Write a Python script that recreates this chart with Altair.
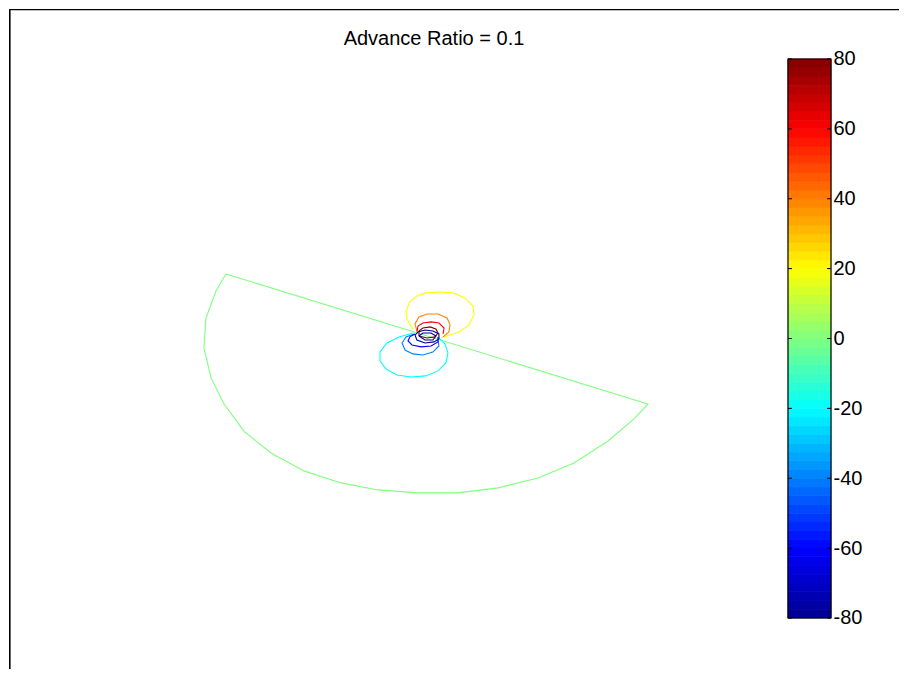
import altair as alt
import pandas as pd
import numpy as np

TITLE = "Advance Ratio = 0.1"

# contour levels and their outlines (normalised disk coordinates, radius = 1)
levels = [0, 20, 40, 60, 80, -20, -40, -60, -80, -90]

c0_x = [-0.914, -0.957, -1.000, -1.009, -0.978, -0.922, -0.836, -0.720, -0.578, -0.418,
        -0.259, -0.086, 0.086, 0.259, 0.431, 0.586, 0.733, 0.845, 0.905, -0.914]
c0_y = [0.413, 0.304, 0.131, -0.061, -0.253, -0.420, -0.596, -0.734, -0.849, -0.926,
        -0.971, -0.990, -0.990, -0.958, -0.894, -0.798, -0.657, -0.516, -0.420, 0.413]

c20_x = [-0.108, -0.134, -0.138, -0.121, -0.091, -0.052, 0.004, 0.065, 0.116, 0.151,
         0.155, 0.134, 0.091, 0.039, 0.013]
c20_y = [0.061, 0.125, 0.176, 0.234, 0.272, 0.292, 0.298, 0.292, 0.260, 0.208,
         0.151, 0.087, 0.042, 0.016, 0.003]

c40_x = [-0.091, -0.099, -0.082, -0.047, 0.000, 0.039, 0.052, 0.047, 0.022]
c40_y = [0.048, 0.093, 0.138, 0.157, 0.157, 0.131, 0.087, 0.042, 0.010]

c60_x = [-0.091, -0.086, -0.065, -0.030, 0.004, 0.026, 0.022]
c60_y = [0.042, 0.080, 0.099, 0.106, 0.099, 0.067, 0.029]

c80_x = [-0.082, -0.082, -0.065, -0.034, -0.009, 0.000, -0.013, -0.047, -0.082]
c80_y = [0.016, 0.048, 0.067, 0.074, 0.061, 0.035, 0.010, 0.003, 0.016]

cm20_x = [-0.108, -0.168, -0.220, -0.250, -0.250, -0.224, -0.177, -0.116, -0.052, 0.000,
          0.034, 0.043, 0.030, 0.004]
cm20_y = [0.035, 0.010, -0.029, -0.087, -0.144, -0.196, -0.234, -0.247, -0.240, -0.208,
          -0.157, -0.093, -0.035, 0.003]

cm40_x = [-0.103, -0.138, -0.155, -0.142, -0.108, -0.065, -0.022, 0.004, 0.000]
cm40_y = [0.029, 0.010, -0.029, -0.074, -0.099, -0.106, -0.087, -0.048, -0.010]

cm60_x = [-0.099, -0.121, -0.129, -0.112, -0.073, -0.030, 0.000, 0.000]
cm60_y = [0.029, 0.010, -0.016, -0.042, -0.054, -0.048, -0.022, 0.010]

cm80_x = [-0.099, -0.086, -0.056, -0.022, 0.004, 0.004, -0.017, -0.056, -0.091, -0.099]
cm80_y = [0.022, 0.042, 0.054, 0.048, 0.029, -0.003, -0.022, -0.029, -0.010, 0.022]

cm90_x = [-0.082, -0.065, -0.030, -0.009, -0.022, -0.056, -0.082]
cm90_y = [0.016, 0.035, 0.035, 0.016, -0.010, -0.010, 0.016]

outlines = [(c0_x, c0_y), (c20_x, c20_y), (c40_x, c40_y), (c60_x, c60_y), (c80_x, c80_y),
            (cm20_x, cm20_y), (cm40_x, cm40_y), (cm60_x, cm60_y), (cm80_x, cm80_y),
            (cm90_x, cm90_y)]

rows = []
for cid, (lev, (xs, ys)) in enumerate(zip(levels, outlines)):
    for i, (xv, yv) in enumerate(zip(xs, ys)):
        rows.append({"x": xv, "y": yv, "level": lev, "cid": cid, "i": i})
contours = pd.DataFrame(rows)

# colour bar
cbar_min, cbar_max = -80, 80
cbar_ticks = [-80, -60, -40, -20, 0, 20, 40, 60, 80]
band_lo = np.arange(cbar_min, cbar_max, 2.5)
bands = pd.DataFrame({"lo": band_lo, "hi": band_lo + 2.5, "mid": band_lo + 1.25})

jet = alt.Scale(domain=[-80, -60, -20, 20, 60, 80],
                range=["#000090", "#0000ff", "#00ffff", "#ffff00", "#ff0000", "#800000"],
                interpolate="rgb", clamp=True)

W, H = 890, 660
xdom = [-1.849, 1.987]
ydom = [-2.119, 2.112]
cb_dom = [-94.60, 94.31]
CB_L, CB_R = 779, 822

lines = alt.Chart(contours).mark_line(strokeWidth=1.1, clip=True).encode(
    x=alt.X("x:Q", scale=alt.Scale(domain=xdom, nice=False, zero=False), axis=None),
    y=alt.Y("y:Q", scale=alt.Scale(domain=ydom, nice=False, zero=False), axis=None),
    color=alt.Color("level:Q", scale=jet, legend=None),
    detail="cid:N",
    order="i:Q",
)

cb_axis = alt.Axis(orient="right", offset=-(W - CB_R), values=cbar_ticks, domain=False,
                   ticks=False, grid=False, labelFontSize=20, labelFont="Liberation Sans",
                   labelColor="black", labelPadding=2, labelOverlap=False, labelFlush=False,
                   labelExpr="'' + datum.value", title=None)
cb_scale = alt.Scale(domain=cb_dom, nice=False, zero=False)

band_layer = alt.Chart(bands).mark_rect(strokeWidth=0.8).encode(
    x=alt.value(CB_L), x2=alt.value(CB_R),
    y=alt.Y("lo:Q", scale=cb_scale, axis=cb_axis), y2="hi:Q",
    color=alt.Color("mid:Q", scale=jet, legend=None),
    stroke=alt.Stroke("mid:Q", scale=jet, legend=None),
)

border = alt.Chart(pd.DataFrame({"a": [cbar_min], "b": [cbar_max]})).mark_rect(
    fill=None, stroke="black", strokeWidth=1.2).encode(
    x=alt.value(CB_L), x2=alt.value(CB_R),
    y=alt.Y("a:Q", scale=cb_scale, axis=cb_axis), y2="b:Q",
)

tick_df = pd.DataFrame({"t": cbar_ticks})
ticks_l = alt.Chart(tick_df).mark_rule(color="black", strokeWidth=1).encode(
    x=alt.value(CB_L), x2=alt.value(CB_L + 4),
    y=alt.Y("t:Q", scale=cb_scale, axis=cb_axis),
)
ticks_r = alt.Chart(tick_df).mark_rule(color="black", strokeWidth=1).encode(
    x=alt.value(CB_R - 4), x2=alt.value(CB_R),
    y=alt.Y("t:Q", scale=cb_scale, axis=cb_axis),
)

colorbar = alt.layer(band_layer, border, ticks_l, ticks_r)

title = alt.Chart(pd.DataFrame({"t": [TITLE]})).mark_text(
    font="Liberation Sans", fontSize=20, color="black", align="center", baseline="alphabetic"
).encode(x=alt.value(425), y=alt.value(36), text="t:N")

frame_l = alt.Chart(pd.DataFrame({"k": [0]})).mark_rule(color="black", strokeWidth=1.6).encode(
    x=alt.value(0.8), y=alt.value(0), y2=alt.value(H))
frame_t = alt.Chart(pd.DataFrame({"k": [0]})).mark_rule(color="black", strokeWidth=1.2).encode(
    x=alt.value(0), x2=alt.value(W), y=alt.value(0.6))

chart = alt.layer(lines, colorbar, title, frame_l, frame_t).resolve_scale(
    y="independent"
).properties(width=W, height=H, padding=0, background="white").configure_view(stroke=None)

chart.save("out.html", embed_options={"renderer": "svg", "actions": False})
